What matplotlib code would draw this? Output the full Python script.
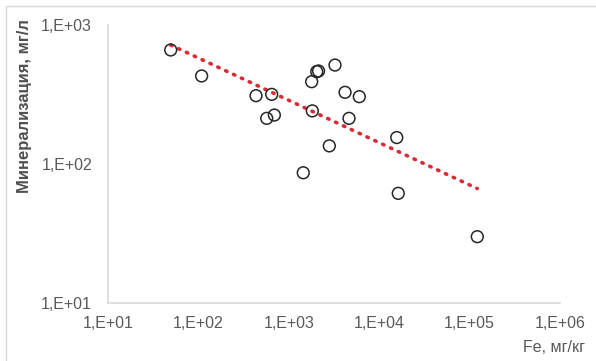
import numpy as np
import matplotlib.pyplot as plt
from matplotlib.patches import Rectangle
from matplotlib.ticker import FixedLocator, FixedFormatter, NullLocator

plt.rcParams['font.family'] = ['Liberation Sans', 'DejaVu Sans']

# Fe в почве (мг/кг) и минерализация воды (мг/л)
fe = [49.4, 108.6, 434, 647, 570, 692, 1820, 1791, 2037, 2134,
      3244, 4190, 6025, 4634, 2806, 1445, 15640, 16250, 121600]
mineral = [661, 430, 310, 317, 213, 225, 241, 391, 462, 467,
           515, 328, 305, 213, 135, 86.5, 155, 61.5, 30]

x_ticks = [1e1, 1e2, 1e3, 1e4, 1e5, 1e6]
x_tick_labels = ['1,E+01', '1,E+02', '1,E+03', '1,E+04', '1,E+05', '1,E+06']
y_ticks = [1e1, 1e2, 1e3]
y_tick_labels = ['1,E+01', '1,E+02', '1,E+03']

fig = plt.figure(figsize=(5.96, 3.61), dpi=100)
ax = fig.add_axes([108 / 596, 1 - 303 / 361, 452 / 596, 278 / 361])

# степенной тренд (линейный в лог-лог координатах)
lx = np.log10(fe)
ly = np.log10(mineral)
k, b = np.polyfit(lx, ly, 1)
tx = np.array([min(lx), max(lx)])
ax.plot(10 ** tx, 10 ** (k * tx + b), color='#d92a35', lw=2.6,
        linestyle=(0, (0.4, 2.0)), dash_capstyle='round', zorder=2)

ax.scatter(fe, mineral, s=72, facecolors='none', edgecolors='#262626',
           linewidths=1.1, zorder=3)

ax.set_xscale('log')
ax.set_yscale('log')
ax.set_xlim(1e1, 1e6)
ax.set_ylim(1e1, 1e3)

ax.xaxis.set_major_locator(FixedLocator(x_ticks))
ax.xaxis.set_major_formatter(FixedFormatter(x_tick_labels))
ax.yaxis.set_major_locator(FixedLocator(y_ticks))
ax.yaxis.set_major_formatter(FixedFormatter(y_tick_labels))
ax.xaxis.set_minor_locator(NullLocator())
ax.yaxis.set_minor_locator(NullLocator())
ax.tick_params(axis='both', length=0, labelsize=11.5, labelcolor='#595959')
ax.tick_params(axis='x', pad=9)
ax.tick_params(axis='y', pad=11.5)

for side in ['top', 'right']:
    ax.spines[side].set_visible(False)
for side in ['left', 'bottom']:
    ax.spines[side].set_color('#d9d9d9')
    ax.spines[side].set_linewidth(1.2)

fig.text(25 / 596, 1 - 106 / 361, 'Минерализация, мг/л', rotation=90,
         ha='center', va='center', fontsize=12, fontweight='bold',
         color='#505050')
fig.text(585 / 596, 1 - 348 / 361, 'Fe, мг/кг', ha='right', va='center',
         fontsize=11.5, color='#595959')

# рамка области диаграммы
fig.patches.append(Rectangle((6 / 596, -0.1), 1.0, 1 - 5.5 / 361 + 0.1,
                             transform=fig.transFigure, fill=False,
                             ec='#d9d9d9', lw=1))

fig.savefig('out.png', dpi=100)
